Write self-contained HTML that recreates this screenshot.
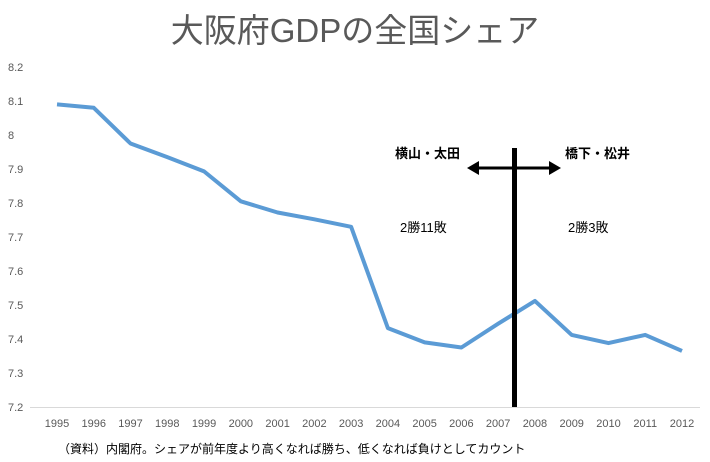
<!DOCTYPE html>
<html><head><meta charset="utf-8"><style>
html,body{margin:0;padding:0;background:#fff;}
svg{display:block;font-family:"Liberation Sans","Noto Sans CJK JP",sans-serif;}
</style></head><body>
<svg id="c" width="710" height="462">
<text x="355" y="42" text-anchor="middle" font-size="33" fill="#595959">大阪府GDPの全国シェア</text>
<g id="yt"></g><g id="xt"></g>
<line x1="30" y1="407.5" x2="700" y2="407.5" stroke="#d9d9d9"/>
<path id="ln" fill="none" stroke="#5b9bd5" stroke-width="4" stroke-linejoin="round"/>
<rect x="512" y="148" width="5" height="259" fill="#000"/>
<g>
<line x1="476" y1="168" x2="552" y2="168" stroke="#000" stroke-width="3"/>
<polygon points="467,168 479,161 479,175" fill="#000"/>
<polygon points="561,168 549,161 549,175" fill="#000"/>
</g>
<text x="395" y="158" font-size="13" font-weight="bold" fill="#000">横山・太田</text>
<text x="565" y="158" font-size="13" font-weight="bold" fill="#000">橋下・松井</text>
<text x="400" y="232" font-size="13" fill="#000">2勝11敗</text>
<text x="568" y="232" font-size="13" fill="#000">2勝3敗</text>
<text x="58" y="453" font-size="12" fill="#000">（資料）内閣府。シェアが前年度より高くなれば勝ち、低くなれば負けとしてカウント</text>
</svg>
<script>
const years=[1995,1996,1997,1998,1999,2000,2001,2002,2003,2004,2005,2006,2007,2008,2009,2010,2011,2012];
const share=[8.09,8.08,7.975,7.935,7.893,7.805,7.772,7.752,7.73,7.432,7.39,7.375,7.445,7.512,7.412,7.388,7.412,7.365];
const yTicks=[7.2,7.3,7.4,7.5,7.6,7.7,7.8,7.9,8,8.1,8.2];
const ns="http://www.w3.org/2000/svg";
const xS=i=>57+i*(625/17);
const yS=v=>407-(v-7.2)*340;
const yt=document.getElementById('yt'),xt=document.getElementById('xt');
yTicks.forEach(v=>{const t=document.createElementNS(ns,'text');
t.setAttribute('x',8);t.setAttribute('y',yS(v)+4);t.setAttribute('font-size','11');t.setAttribute('fill','#595959');
t.textContent=String(v);


yt.appendChild(t);});
years.forEach((y,i)=>{const t=document.createElementNS(ns,'text');
t.setAttribute('x',xS(i));t.setAttribute('y',427);t.setAttribute('font-size','11');t.setAttribute('fill','#595959');t.setAttribute('text-anchor','middle');
t.textContent=y;


xt.appendChild(t);});
document.getElementById('ln').setAttribute('d',share.map((v,i)=>(i?'L':'M')+xS(i)+','+yS(v)).join(''));
</script>
</body></html>
